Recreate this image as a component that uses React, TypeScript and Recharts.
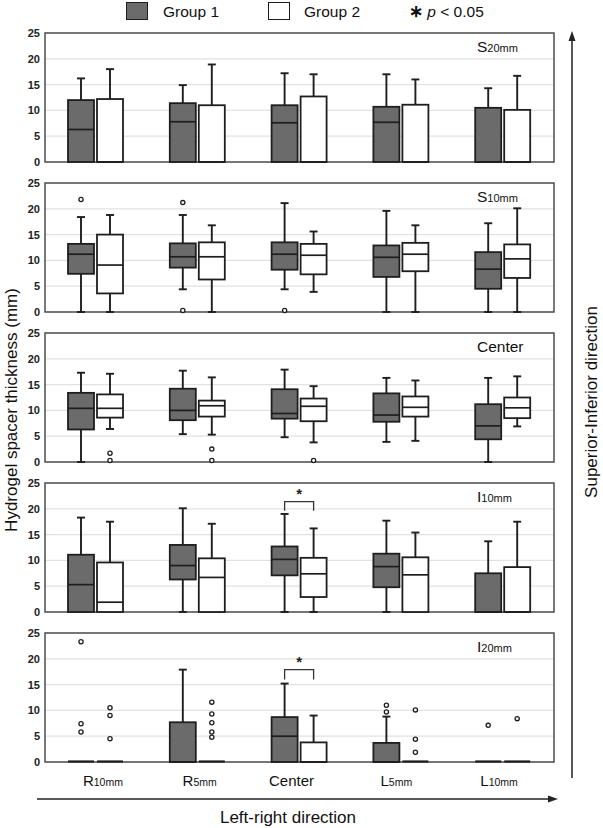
import { Bar, CartesianGrid, ComposedChart, ReferenceArea, XAxis, YAxis } from "recharts";

const categories = ["R10mm", "R5mm", "Center", "L5mm", "L10mm"];
const categoryHead = ["R", "R", "Center", "L", "L"];
const categorySub = ["10mm", "5mm", "", "5mm", "10mm"];
const yTicks = [0, 5, 10, 15, 20, 25];

// box stats per category: [lower whisker, Q1, median, Q3, upper whisker]
const s20Group1 = [
  [0, 0, 6.3, 12.0, 16.2],
  [0, 0, 7.8, 11.4, 14.9],
  [0, 0, 7.6, 11.0, 17.2],
  [0, 0, 7.7, 10.7, 17.0],
  [0, 0, 0, 10.5, 14.3],
];
const s20Group2 = [
  [0, 0, 0, 12.2, 18.0],
  [0, 0, 0, 11.0, 18.9],
  [0, 0, 0, 12.7, 17.0],
  [0, 0, 0, 11.1, 16.0],
  [0, 0, 0, 10.1, 16.7],
];
const s20Out1 = [[], [], [], [], []];
const s20Out2 = [[], [], [], [], []];

const s10Group1 = [
  [0, 7.4, 11.2, 13.2, 18.4],
  [4.4, 8.6, 10.7, 13.3, 18.8],
  [4.4, 8.2, 11.2, 13.5, 21.1],
  [0, 6.8, 10.6, 12.9, 19.6],
  [0, 4.5, 8.3, 11.6, 17.2],
];
const s10Group2 = [
  [0, 3.6, 9.1, 15.0, 18.8],
  [0, 6.3, 10.7, 13.5, 16.8],
  [3.9, 7.3, 11.0, 13.2, 15.6],
  [0, 7.9, 11.2, 13.4, 16.8],
  [0, 6.6, 10.3, 13.1, 20.1],
];
const s10Out1 = [[21.8], [21.2, 0.2], [0.2], [], []];
const s10Out2 = [[], [], [], [], []];

const centerGroup1 = [
  [0, 6.3, 10.4, 13.4, 17.3],
  [5.4, 8.1, 10.0, 14.2, 17.7],
  [4.8, 8.4, 9.4, 14.1, 17.9],
  [3.9, 7.8, 9.1, 13.3, 16.3],
  [0, 4.4, 7.0, 11.2, 16.3],
];
const centerGroup2 = [
  [6.4, 8.6, 10.4, 13.1, 17.1],
  [5.3, 8.8, 10.9, 11.9, 16.4],
  [3.8, 7.9, 10.8, 12.3, 14.7],
  [4.1, 8.8, 10.6, 12.7, 15.8],
  [6.9, 8.5, 10.5, 12.5, 16.6],
];
const centerOut1 = [[], [], [], [], []];
const centerOut2 = [[1.7, 0.2], [2.5, 0.2], [0.2], [], []];

const i10Group1 = [
  [0, 0, 5.3, 11.1, 18.3],
  [0, 6.3, 9.0, 13.0, 20.1],
  [0, 7.1, 10.2, 12.7, 19.0],
  [0, 4.8, 8.8, 11.3, 17.7],
  [0, 0, 0, 7.5, 13.7],
];
const i10Group2 = [
  [0, 0, 1.9, 9.6, 17.5],
  [0, 0, 6.7, 10.4, 17.1],
  [0, 2.9, 7.4, 10.5, 16.2],
  [0, 0, 7.2, 10.6, 15.4],
  [0, 0, 0, 8.7, 17.5],
];
const i10Out1 = [[], [], [], [], []];
const i10Out2 = [[], [], [], [], []];

const i20Group1 = [
  [0, 0, 0, 0, 0],
  [0, 0, 0, 7.7, 17.9],
  [0, 0, 5.0, 8.7, 15.2],
  [0, 0, 0, 3.7, 8.8],
  [0, 0, 0, 0, 0],
];
const i20Group2 = [
  [0, 0, 0, 0, 0],
  [0, 0, 0, 0, 0],
  [0, 0, 0, 3.8, 9.0],
  [0, 0, 0, 0, 0],
  [0, 0, 0, 0, 0],
];
const i20Out1 = [[23.3, 7.4, 5.8], [], [], [11.0, 9.7], [7.1]];
const i20Out2 = [[10.5, 9.0, 4.5], [11.6, 9.3, 7.6, 5.8, 4.8], [], [10.1, 4.4, 1.9], [8.4]];

// significance bracket: [category, top, end of legs]
const i10Bracket = ["Center", 21.4, 19.6];
const i20Bracket = ["Center", 17.9, 16.0];

const panels = [
  { head: "S", sub: "20mm", g1: s20Group1, g2: s20Group2, o1: s20Out1, o2: s20Out2, bracket: null },
  { head: "S", sub: "10mm", g1: s10Group1, g2: s10Group2, o1: s10Out1, o2: s10Out2, bracket: null },
  { head: "Center", sub: "", g1: centerGroup1, g2: centerGroup2, o1: centerOut1, o2: centerOut2, bracket: null },
  { head: "I", sub: "10mm", g1: i10Group1, g2: i10Group2, o1: i10Out1, o2: i10Out2, bracket: i10Bracket },
  { head: "I", sub: "20mm", g1: i20Group1, g2: i20Group2, o1: i20Out1, o2: i20Out2, bracket: i20Bracket },
];

const FONT = "'Liberation Sans', Arial, sans-serif";
const INK = "#1e1e1e";
const G1_FILL = "#6b6b6b";
const G2_FILL = "#ffffff";
const BAR = 26;
const GAP = 3;
const labelNudge = [7, 2, -8, -5, -4];

function BoxShape(props: any) {
  const { x, y, width, height, payload, index, hiKey, stats, outliers, fill, bracket } = props;
  const hi = payload[hiKey];
  if (!hi || !height) return null;
  const zero = y + height;
  const k = height / hi;
  const py = (v: number) => zero - v * k;
  const [wLo, q1, med, q3, wHi] = stats[index];
  const cx = x + width / 2;
  const cap = 4;
  const flat = q3 - q1 < 0.05;

  return (
    <g>
      {wHi > q3 && (
        <g stroke={INK} strokeWidth={1.9}>
          <line x1={cx} x2={cx} y1={py(q3)} y2={py(wHi)} />
          <line x1={cx - cap} x2={cx + cap} y1={py(wHi)} y2={py(wHi)} />
        </g>
      )}
      {wLo < q1 && (
        <g stroke={INK} strokeWidth={1.9}>
          <line x1={cx} x2={cx} y1={py(q1)} y2={py(wLo)} />
          <line x1={cx - cap} x2={cx + cap} y1={py(wLo)} y2={py(wLo)} />
        </g>
      )}
      {flat ? (
        <line x1={x} x2={x + width} y1={py(q1) - 0.5} y2={py(q1) - 0.5} stroke={INK} strokeWidth={2.2} />
      ) : (
        <>
          <rect x={x} y={py(q3)} width={width} height={py(q1) - py(q3)} fill={fill} stroke={INK} strokeWidth={1.8} />
          <line x1={x} x2={x + width} y1={py(med)} y2={py(med)} stroke={INK} strokeWidth={1.7} />
        </>
      )}
      {outliers[index].map((v: number, j: number) => (
        <circle key={j} cx={cx} cy={Math.min(py(v), zero - 1.5)} r={2.1} fill="#fff" stroke={INK} strokeWidth={1.3} />
      ))}
      {bracket && bracket[0] === payload.cat && (
        <g>
          <polyline
            points={`${cx},${py(bracket[2])} ${cx},${py(bracket[1])} ${cx + width + GAP},${py(bracket[1])} ${cx + width + GAP},${py(bracket[2])}`}
            fill="none"
            stroke="#333"
            strokeWidth={1.3}
          />
          <text x={cx + (width + GAP) / 2} y={py(bracket[1]) - 3} textAnchor="middle" fontSize={15} fontWeight={700} fill={INK} fontFamily={FONT}>
            *
          </text>
        </g>
      )}
    </g>
  );
}

function CategoryTick(props: any) {
  const { x, y, payload } = props;
  const i = categories.indexOf(payload.value);
  return (
    <text x={x + labelNudge[i]} y={y + 16} textAnchor="middle" fill="#111" fontSize={15} fontFamily={FONT}>
      <tspan>{categoryHead[i]}</tspan>
      {categorySub[i] && <tspan fontSize={10.5}>{categorySub[i]}</tspan>}
    </text>
  );
}

function Panel({ panel, index }: { panel: any; index: number }) {
  const last = index === panels.length - 1;
  const rows = categories.map((cat, i) => ({
    cat,
    hi1: Math.max(...panel.g1[i], ...panel.o1[i]),
    hi2: Math.max(...panel.g2[i], ...panel.o2[i]),
  }));
  return (
    <div style={{ position: "absolute", left: 0, top: 28 + index * 150 }}>
      <ComposedChart
        width={560}
        height={last ? 169 : 139}
        data={rows}
        margin={{ top: 5, right: 6, bottom: 5, left: 15 }}
        barGap={GAP}
      >
        <CartesianGrid vertical={false} stroke="#e2e2e2" strokeWidth={1.2} />
        <XAxis
          dataKey="cat"
          hide={!last}
          axisLine={false}
          tickLine={false}
          height={30}
          interval={0}
          tick={<CategoryTick />}
        />
        <YAxis
          domain={[0, 25]}
          ticks={yTicks}
          width={30}
          interval={0}
          axisLine={false}
          tickLine={false}
          tickSize={3}
          tickMargin={2}
          tick={{ fontSize: 11, fontWeight: 700, fill: "#222", fontFamily: FONT }}
        />
        <ReferenceArea y1={0} y2={25} fill="none" fillOpacity={0} stroke="#4d4d4d" strokeWidth={1.5} ifOverflow="visible" />
        <Bar
          dataKey="hi1"
          barSize={BAR}
          isAnimationActive={false}
          shape={(p: any) => (
            <BoxShape {...p} hiKey="hi1" stats={panel.g1} outliers={panel.o1} fill={G1_FILL} bracket={panel.bracket} />
          )}
        />
        <Bar
          dataKey="hi2"
          barSize={BAR}
          isAnimationActive={false}
          shape={(p: any) => <BoxShape {...p} hiKey="hi2" stats={panel.g2} outliers={panel.o2} fill={G2_FILL} bracket={null} />}
        />
      </ComposedChart>
      <div
        style={{
          position: "absolute",
          left: 477,
          top: 10,
          lineHeight: "18px",
          fontSize: 15.5,
          color: "#111",
          whiteSpace: "nowrap",
        }}
      >
        {panel.head}
        <span style={{ fontSize: 11 }}>{panel.sub}</span>
      </div>
    </div>
  );
}

export default function App() {
  return (
    <div
      style={{
        position: "absolute",
        left: 0,
        top: 0,
        width: 603,
        height: 828,
        background: "#fff",
        fontFamily: FONT,
        overflow: "hidden",
      }}
    >
      {/* legend */}
      <div style={{ position: "absolute", left: 126, top: 2, width: 20, height: 16, background: G1_FILL, border: `1.5px solid ${INK}` }} />
      <div style={{ position: "absolute", left: 163, top: 3, fontSize: 15.5, lineHeight: "18px", color: "#111" }}>Group 1</div>
      <div style={{ position: "absolute", left: 268, top: 2, width: 20, height: 16, background: G2_FILL, border: `1.5px solid ${INK}` }} />
      <div style={{ position: "absolute", left: 304, top: 3, fontSize: 15.5, lineHeight: "18px", color: "#111" }}>Group 2</div>
      <div style={{ position: "absolute", left: 409, top: 3, fontSize: 15.5, lineHeight: "18px", color: "#111", whiteSpace: "nowrap" }}>
        <b style={{ fontSize: 17 }}>∗</b> <i>p</i> &lt; 0.05
      </div>

      {panels.map((panel, i) => (
        <Panel key={i} panel={panel} index={i} />
      ))}

      {/* direction arrows and axis titles */}
      <svg width={603} height={828} style={{ position: "absolute", left: 0, top: 0, pointerEvents: "none" }}>
        <line x1={572} x2={572} y1={40} y2={778} stroke="#222" strokeWidth={1.5} />
        <polygon points="572,31 568.5,41 575.5,41" fill="#222" />
        <line x1={37} x2={550} y1={799} y2={799} stroke="#222" strokeWidth={1.5} />
        <polygon points="558,799 548,795.5 548,802.5" fill="#222" />
        <text x={288} y={823} textAnchor="middle" fontSize={17} fill="#111" fontFamily={FONT}>
          Left-right direction
        </text>
        <text
          x={0}
          y={0}
          transform="translate(17,410) rotate(-90)"
          textAnchor="middle"
          fontSize={17}
          fill="#111"
          fontFamily={FONT}
        >
          Hydrogel spacer thickness (mm)
        </text>
        <text
          x={0}
          y={0}
          transform="translate(597,402) rotate(-90)"
          textAnchor="middle"
          fontSize={17}
          fill="#111"
          fontFamily={FONT}
        >
          Superior-Inferior direction
        </text>
      </svg>
    </div>
  );
}
